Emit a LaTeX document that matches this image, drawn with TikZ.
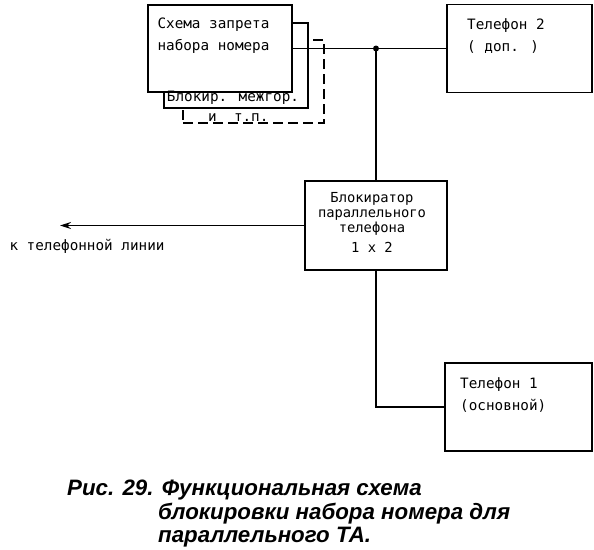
\documentclass[tikz,border=0pt]{standalone}
\usepackage{fontspec}
\setmainfont{Liberation Sans}
\newfontfamily\typefont{DejaVu Sans Mono}
\usetikzlibrary{arrows.meta}

\begin{document}
\begin{tikzpicture}[x=1pt,y=-1pt]
  \tikzstyle{every node}+=[inner sep=0pt]
  \tikzstyle{box}=[draw=black, fill=white, line width=1.2pt]
  \tikzstyle{wire}=[line width=1.2pt]
  \tikzstyle{txt}=[font=\typefont\fontsize{14.3}{22}\selectfont]
  \tikzstyle{capline}=[anchor=base west, font=\bfseries\itshape\fontsize{22.3}{24}\selectfont]
  \useasboundingbox (0,0) rectangle (594,549);
  % stacked blocking circuits
  \node [box, dash pattern=on 10pt off 5pt, minimum width=141pt, minimum height=83pt] (etc) at (253.5,81.5) {};
  \node [box, minimum width=144pt, minimum height=85pt] (blk) at (236,65.5) {};
  \node [box, minimum width=144pt, minimum height=87pt] (scheme) at (220,48.5) {};
  \node [txt, align=left] (schemetxt) at (213.5,36) {Схема запрета\\набора номера};
  \node [txt] (blktxt) at (233,98) {Блокир. межгор.};
  \node [txt, anchor=base west] (etctxt) at (208,121) {и\ \ т.п.};
  % phones and blocker
  \node [box, minimum width=145pt, minimum height=88pt] (tel2) at (519.5,48.5) {};
  \node [txt, align=left, anchor=west] (tel2txt) at (467,36.5) {Телефон 2\\( доп. )};
  \node [box, minimum width=142pt, minimum height=89pt] (blocker) at (376,225.5) {};
  \node [txt, align=center, font=\typefont\fontsize{13.8}{15}\selectfont] (blockertxt) at (372,222) {Блокиратор\\параллельного\\телефона\\[5pt]1 x 2};
  \node [box, minimum width=147pt, minimum height=88pt] (tel1) at (518.5,407) {};
  \node [txt, align=left, anchor=west] (tel1txt) at (460,395) {Телефон 1\\(основной)};
  \coordinate (jn) at (376,48.5);
  \coordinate (tip) at (60,225.5);
  \node [txt] (linetxt) at (87,246) {к телефонной линии};
  % connections
  \fill [black] (jn) circle (3pt);
  \draw [wire] (scheme.east) -- (jn) -- (tel2.west);
  \draw [wire] (jn) -- (blocker.north);
  \draw [wire] (blocker.south) |- (tel1.west);
  \draw [wire, -{Stealth[length=11pt,width=7pt]}] (blocker.west) -- (tip);
  % caption
  \node [capline] (cap1) at (67,495) {Рис. 29. Функциональная схема};
  \node [capline] (cap2) at (158,519) {блокировки набора номера для};
  \node [capline] (cap3) at (158,542) {параллельного ТА.};
\end{tikzpicture}
\end{document}
